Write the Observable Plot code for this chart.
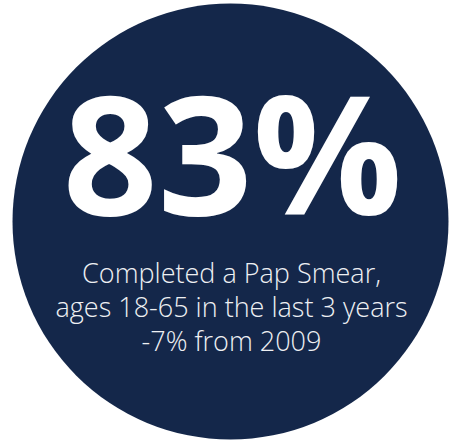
<!DOCTYPE html>
<html>
<head>
<meta charset="utf-8">
<script src="https://cdn.jsdelivr.net/npm/d3@7"></script>
<script src="https://cdn.jsdelivr.net/npm/@observablehq/plot@0.6"></script>
<style>
  html, body { margin: 0; padding: 0; background: #ffffff; }
  #chart svg { display: block; }
</style>
</head>
<body>
<div id="chart"></div>
<script>
// Data
const statValue = [83];
const statLabels = ["83%"];
const descLines = ["Completed a Pap Smear,", "ages 18-65 in the last 3 years", "-7% from 2009"];
const lineIndex = [0, 1, 2];

const W = 449, H = 445;
const cx = 230, cy = 221, R = 218;
const navy = "#14274a";

const bubble = statValue.map(v => ({v, x: cx, y: cy, r: R}));
const big = statLabels.map(t => ({t, x: 232, y: 214}));
const desc = descLines.map((t, i) => ({t, x: 231, y: 282 + lineIndex[i] * 34}));

const chart = Plot.plot({
  width: W,
  height: H,
  margin: 0,
  x: {domain: [0, W], range: [0, W], axis: null},
  y: {domain: [0, H], range: [0, H], axis: null},
  r: {type: "identity"},
  style: {background: "#ffffff"},
  marks: [
    Plot.dot(bubble, {x: "x", y: "y", r: "r", fill: navy, stroke: "none"}),
    Plot.text(big, {x: "x", y: "y", text: "t", fill: "#ffffff", fontSize: 166, fontWeight: 700,
      fontFamily: "Open Sans", textAnchor: "middle", lineAnchor: "bottom"}),
    Plot.text(desc, {x: "x", y: "y", text: "t", fill: "#eef0f3", fontSize: 27, fontWeight: 300,
      fontFamily: "Open Sans", textAnchor: "middle", lineAnchor: "bottom"})
  ]
});
document.getElementById("chart").appendChild(chart);
</script>
</body>
</html>
